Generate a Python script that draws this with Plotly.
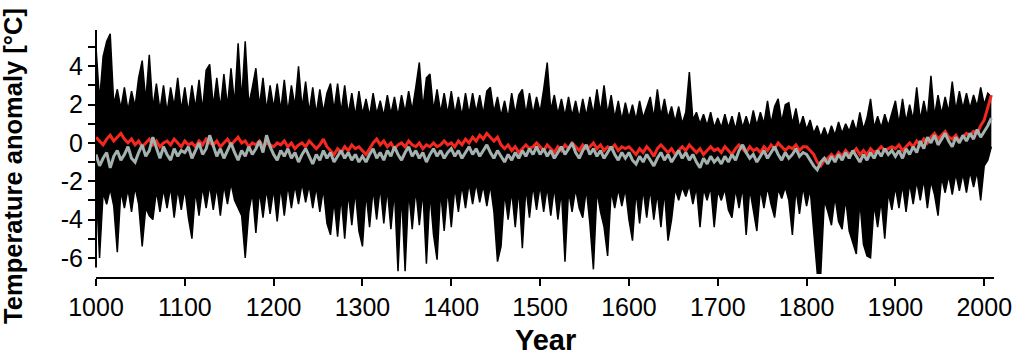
import plotly.graph_objects as go

# Years sampled every 4 years (1000 ... 2008)
years = list(range(1000, 2009, 4))

# Upper envelope of the black reconstruction ensemble
upper = [
    5.0, 2.2, 4.5, 5.3, 5.7, 2.0, 2.8, 1.8, 2.9, 1.7, 2.7, 1.9, 3.4, 4.3, 2.2, 4.6, 1.8, 3.1, 1.7, 3.0, 1.6, 2.9, 1.9, 3.4, 1.7,
    2.9, 1.6, 3.0, 1.8, 3.3, 1.7, 3.8, 4.1, 1.9, 3.4, 1.8, 3.6, 1.9, 3.9, 2.0, 5.2, 2.2, 5.3, 2.0, 2.9, 3.9, 1.9, 3.4, 1.7, 3.0,
    1.8, 3.1, 1.7, 3.3, 1.6, 3.0, 1.9, 4.0, 1.8, 3.2, 1.6, 2.9, 1.5, 2.8, 1.6, 2.6, 3.1, 1.7, 3.1, 1.6, 3.0, 1.5, 2.6, 1.4, 2.7,
    1.5, 2.3, 1.4, 2.6, 1.5, 2.2, 1.4, 2.5, 1.5, 2.4, 1.4, 2.5, 1.6, 2.7, 1.7, 2.9, 4.2, 1.8, 3.4, 3.6, 1.7, 2.8, 1.6, 2.6, 1.5,
    2.7, 1.5, 2.4, 1.4, 2.6, 1.5, 2.6, 1.6, 2.5, 1.5, 2.7, 2.9, 1.6, 2.4, 1.4, 2.2, 1.3, 2.6, 1.5, 2.5, 2.8, 1.5, 2.6, 1.5, 2.4,
    1.6, 2.8, 4.2, 1.7, 2.5, 1.5, 2.3, 1.4, 2.4, 1.4, 2.2, 1.3, 2.3, 1.4, 2.4, 1.5, 2.8, 1.6, 3.0, 1.5, 2.5, 1.3, 2.2, 1.2, 2.1,
    1.3, 2.0, 1.2, 2.2, 1.3, 1.9, 2.4, 1.3, 2.8, 1.4, 2.3, 1.3, 1.9, 1.1, 1.9, 1.0, 1.6, 3.7, 1.2, 1.6, 1.0, 1.5, 0.9, 1.6, 0.8,
    1.3, 0.8, 1.5, 0.8, 1.4, 0.7, 1.6, 0.8, 1.4, 0.8, 1.7, 0.9, 1.6, 1.0, 2.2, 1.0, 1.9, 2.3, 1.1, 2.0, 2.1, 1.0, 1.8, 0.8, 1.4,
    0.7, 1.2, 0.5, 0.9, 0.3, 0.8, 0.3, 0.9, 0.4, 1.1, 0.5, 1.0, 0.6, 1.2, 0.6, 1.6, 0.7, 1.3, 2.3, 0.8, 1.4, 0.8, 1.5, 0.9, 1.6,
    2.2, 1.0, 2.3, 1.1, 2.0, 1.2, 2.9, 1.2, 2.2, 1.3, 3.5, 1.4, 2.5, 1.5, 2.4, 1.6, 3.2, 1.7, 2.7, 1.8, 2.6, 1.8, 2.5, 1.9, 2.9,
    2.0, 2.6, 2.4,
]

# Lower envelope of the black reconstruction ensemble
lower = [
    -2.0, -6.0, -2.6, -3.2, -2.4, -3.3, -5.7, -2.5, -3.4, -2.4, -3.6, -2.3, -3.2, -5.4, -3.4, -3.8, -4.0, -2.5, -3.6, -2.4, -3.4, -2.3, -3.9, -2.4, -3.5,
    -2.4, -3.9, -5.0, -2.5, -3.8, -2.3, -3.4, -2.2, -3.5, -2.3, -3.8, -2.2, -3.2, -2.1, -3.0, -3.4, -3.8, -6.0, -3.6, -2.6, -4.7, -2.5, -3.9, -2.4, -3.7,
    -2.4, -4.1, -2.3, -3.8, -2.2, -3.4, -2.2, -3.2, -2.1, -3.1, -2.2, -3.4, -2.3, -3.6, -2.4, -4.2, -4.8, -3.0, -4.9, -2.8, -5.0, -2.6, -4.3, -2.5, -4.6,
    -5.4, -2.6, -4.4, -2.4, -4.0, -2.3, -4.2, -2.4, -4.5, -2.5, -6.7, -2.6, -6.7, -2.5, -4.5, -2.4, -4.3, -2.5, -6.3, -2.6, -4.8, -6.1, -2.5, -4.6, -2.4,
    -4.4, -2.3, -3.6, -2.2, -3.4, -2.1, -3.2, -2.1, -3.1, -2.2, -3.3, -2.2, -3.6, -6.2, -5.4, -2.6, -4.0, -2.5, -4.4, -2.4, -5.5, -2.3, -3.9, -2.2, -3.5,
    -2.2, -3.6, -2.3, -3.8, -2.3, -4.0, -2.5, -6.2, -2.5, -3.6, -2.4, -3.4, -3.9, -2.4, -4.2, -6.6, -2.5, -3.6, -4.4, -5.9, -2.5, -3.4, -2.4, -3.3, -2.4,
    -4.0, -5.1, -2.5, -4.2, -2.4, -3.9, -2.4, -4.0, -2.6, -4.4, -2.5, -5.1, -4.0, -2.4, -3.0, -2.3, -2.8, -2.2, -3.2, -2.3, -4.4, -2.4, -3.0, -2.3, -4.4,
    -2.5, -3.0, -2.4, -3.5, -3.9, -2.4, -3.4, -2.3, -4.8, -2.4, -3.6, -4.6, -2.4, -3.4, -2.3, -3.2, -3.9, -2.4, -2.9, -2.3, -3.0, -4.8, -2.4, -3.7, -2.3,
    -3.3, -2.4, -4.5, -6.8, -6.8, -3.0, -3.6, -4.3, -2.8, -4.1, -4.5, -2.9, -4.6, -5.2, -5.8, -3.0, -5.3, -5.9, -6.0, -3.2, -4.4, -3.0, -5.0, -2.6, -3.5,
    -2.3, -3.4, -2.2, -3.6, -2.1, -3.2, -2.0, -3.0, -1.9, -3.4, -2.0, -2.7, -3.8, -1.8, -2.6, -1.7, -2.7, -1.6, -2.5, -1.6, -2.6, -1.5, -2.3, -1.5, -3.0,
    -1.2, -0.9, -0.2,
]

# Ensemble mean (red)
red_mean = [
    0.3, 0.1, -0.1, 0.2, 0.4, 0.1, 0.3, 0.5, 0.2, 0.0, 0.2, -0.1, 0.1, -0.2, 0.0, 0.2, -0.1, 0.1, -0.2, 0.0, 0.1, -0.1, 0.2, 0.0, -0.2,
    0.1, -0.1, 0.0, -0.2, 0.1, -0.1, 0.2, 0.0, -0.1, 0.1, -0.2, 0.0, 0.2, -0.1, 0.1, 0.3, 0.0, 0.1, -0.2, 0.0, -0.1, 0.1, -0.2, 0.0, -0.1,
    -0.2, 0.0, -0.1, 0.1, -0.2, 0.0, -0.3, -0.1, 0.0, -0.2, 0.1, -0.1, -0.3, -0.1, 0.2, -0.2, -0.4, -0.6, -0.3, -0.5, -0.2, -0.4, -0.1, -0.3, -0.2,
    -0.4, -0.6, -0.3, 0.0, 0.2, -0.1, 0.1, -0.2, 0.0, -0.3, -0.1, 0.0, -0.2, 0.1, -0.1, -0.2, 0.0, -0.3, -0.1, -0.2, 0.0, -0.2, -0.1, 0.1, -0.1,
    0.0, -0.2, 0.1, -0.1, 0.2, 0.0, 0.3, 0.1, 0.4, 0.2, 0.5, 0.3, 0.1, 0.3, -0.1, -0.3, -0.1, -0.4, -0.2, -0.5, -0.3, -0.1, -0.3, -0.2, 0.0,
    -0.2, -0.4, -0.1, -0.3, -0.5, -0.2, -0.4, -0.1, -0.3, 0.0, -0.2, -0.4, -0.1, -0.3, -0.2, 0.0, -0.3, -0.1, -0.4, -0.2, -0.3, -0.1, -0.4, -0.2, -0.3,
    -0.2, -0.4, -0.6, -0.3, -0.5, -0.2, -0.4, -0.7, -0.3, -0.1, -0.3, -0.5, -0.3, -0.6, -0.4, -0.2, -0.4, -0.1, -0.3, -0.5, -0.3, -0.6, -0.4, -0.2, -0.4,
    -0.3, -0.5, -0.2, -0.4, -0.6, -0.3, -0.1, -0.3, -0.5, -0.2, -0.4, -0.3, -0.5, -0.2, -0.4, -0.1, -0.3, 0.0, -0.2, -0.4, -0.2, -0.3, -0.1, -0.4, -0.2,
    -0.2, -0.4, -0.6, -1.0, -1.2, -0.9, -0.8, -0.6, -0.8, -0.5, -0.7, -0.4, -0.6, -0.5, -0.3, -0.6, -0.4, -0.6, -0.3, -0.5, -0.4, -0.2, -0.4, -0.3, -0.2,
    -0.3, -0.1, -0.4, -0.2, 0.0, -0.2, 0.1, -0.1, 0.2, 0.0, 0.3, 0.5, 0.2, 0.4, 0.6, 0.3, 0.2, 0.4, 0.1, 0.3, 0.5, 0.4, 0.6, 0.5, 0.9,
    1.2, 1.8, 2.5,
]

# Second mean series (grey)
grey_mean = [
    -0.6, -1.2, -0.8, -0.5, -1.3, -0.7, -0.4, -0.9, -0.6, -0.2, -0.8, -1.0, -0.5, -0.1, -0.7, -0.4, 0.3, -0.3, -0.8, -0.2, -0.6, -0.9, -0.3, -0.7, -0.4,
    -0.5, -0.2, -0.8, -0.4, 0.0, -0.6, -0.3, 0.4, -0.2, -0.7, -0.3, -0.8, -0.4, 0.0, -0.5, -0.9, -0.4, -0.7, -0.2, -0.6, -0.3, 0.1, -0.5, 0.4, -0.2,
    -0.6, -0.9, -0.4, -0.7, -0.3, -0.8, -0.5, -1.0, -0.6, -0.3, -0.7, -1.1, -0.6, -0.9, -0.4, -0.8, -0.5, -1.0, -0.7, -0.4, -0.8, -0.5, -0.9, -0.6, -1.0,
    -0.7, -1.0, -0.6, -0.3, -0.8, -0.5, -0.9, -0.4, -0.7, -0.2, -0.6, -0.9, -0.5, -0.2, -0.7, -0.4, -0.8, -0.5, -1.0, -0.6, -0.3, -0.7, -0.4, -0.8, -0.5,
    -0.3, -0.7, -0.4, -0.8, -0.5, -0.2, -0.6, -0.3, -0.7, -0.4, -0.1, -0.5, -0.8, -0.4, -0.7, -1.0, -0.6, -0.9, -0.5, -0.8, -0.4, -0.7, -0.3, -0.6, -0.2,
    -0.6, -0.3, -0.7, -0.4, -0.8, -0.5, -0.2, -0.6, -0.3, 0.0, -0.5, -0.8, -0.4, -0.1, -0.6, -0.3, -0.7, -0.4, -0.8, -0.5, -0.2, -0.6, -0.9, -0.5, -0.8,
    -0.5, -0.9, -1.1, -0.7, -1.0, -0.6, -0.9, -1.2, -0.8, -0.5, -0.9, -0.6, -1.0, -0.7, -0.4, -0.8, -0.5, -0.9, -0.6, -1.0, -1.3, -0.8, -1.1, -0.7, -1.0,
    -0.8, -1.1, -0.7, -1.0, -0.6, -0.9, -0.4, -0.1, -0.5, -0.8, -0.6, -1.0, -0.7, -0.4, -0.8, -0.5, -0.2, -0.6, -0.9, -0.5, -0.8, -0.6, -0.3, -0.7, -0.5,
    -0.6, -0.9, -1.2, -1.4, -1.0, -0.8, -1.1, -0.7, -1.0, -0.6, -0.9, -0.5, -0.8, -0.4, -0.7, -1.0, -0.6, -0.9, -0.5, -0.8, -0.4, -0.7, -0.3, -0.6, -0.4,
    -0.7, -0.4, -0.8, -0.3, -0.6, -0.2, -0.5, 0.1, -0.3, 0.3, 0.0, 0.4, -0.1, 0.2, 0.5, 0.1, -0.2, 0.3, 0.0, 0.4, 0.1, 0.5, 0.2, 0.7, 0.3,
    0.6, 0.9, 1.3,
]

x_ticks = list(range(1000, 2001, 100))
y_ticks = list(range(-6, 6))
y_ticktext = [str(v) if v % 2 == 0 else "" for v in y_ticks]

FONT = "Liberation Sans, Arial, sans-serif"

fig = go.Figure()
fig.add_trace(go.Scatter(x=years, y=upper, mode="lines",
                         line=dict(color="black", width=1.5), hoverinfo="skip"))
fig.add_trace(go.Scatter(x=years, y=lower, mode="lines", fill="tonexty",
                         fillcolor="black", line=dict(color="black", width=1.5),
                         hoverinfo="skip"))
fig.add_trace(go.Scatter(x=years, y=red_mean, mode="lines",
                         line=dict(color="#f5281e", width=3)))
fig.add_trace(go.Scatter(x=years, y=grey_mean, mode="lines",
                         line=dict(color="#a3b1af", width=3)))

fig.update_layout(
    width=1024, height=363,
    margin=dict(l=96, r=28, t=28, b=86),
    paper_bgcolor="white", plot_bgcolor="white",
    showlegend=False,
    font=dict(family=FONT, color="black", size=25),
    xaxis=dict(range=[1000, 2011], tickvals=x_ticks, showgrid=False, zeroline=False,
               showline=True, linecolor="black", linewidth=2,
               ticks="outside", ticklen=7, tickwidth=2, tickcolor="black",
               tickfont=dict(size=25, family=FONT)),
    yaxis=dict(range=[-7, 6], tickvals=y_ticks, ticktext=y_ticktext, showgrid=False,
               zeroline=False, showline=False,
               ticks="outside", ticklen=7, tickwidth=2, tickcolor="black",
               tickfont=dict(size=25, family=FONT)),
    shapes=[dict(type="line", xref="paper", yref="y", x0=0, x1=0, y0=-6.5, y1=5.9,
                 line=dict(color="black", width=2), layer="below")],
    annotations=[
        dict(text="<b>Year</b>", xref="paper", yref="paper", x=0.5, y=-0.253,
             xanchor="center", yanchor="middle", showarrow=False,
             font=dict(size=29, family=FONT)),
        dict(text="<b>Temperature anomaly [°C]</b>", xref="paper", yref="paper",
             x=-0.0925, y=0.446, xanchor="center", yanchor="middle", textangle=-90,
             showarrow=False, font=dict(size=25.5, family=FONT)),
    ],
)

fig.write_html(
    "out.html",
    config={"displayModeBar": False},
    post_script="document.body.style.margin='0';document.body.style.padding='0';",
)
